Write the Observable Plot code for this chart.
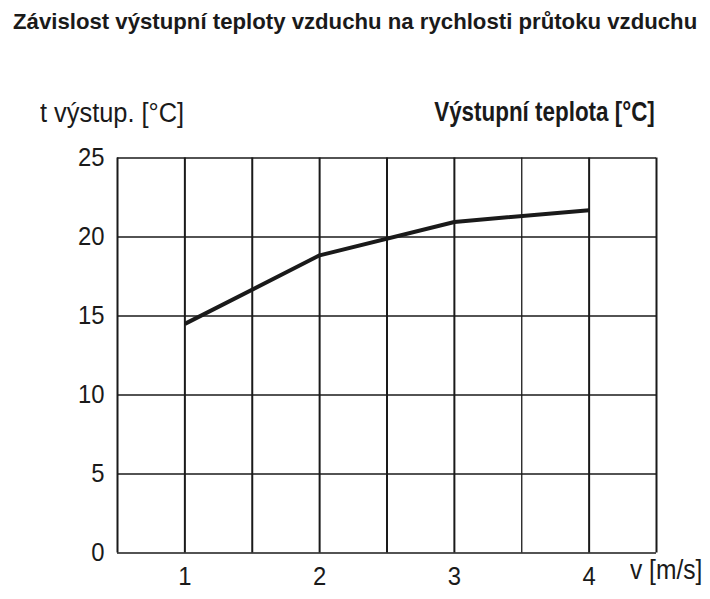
<!DOCTYPE html>
<html>
<head>
<meta charset="utf-8">
<script src="https://cdn.jsdelivr.net/npm/d3@7"></script>
<script src="https://cdn.jsdelivr.net/npm/@observablehq/plot@0.6"></script>
<style>
  html, body { margin: 0; padding: 0; background: #fff; }
  #wrap { position: relative; width: 710px; height: 599px; font-family: "Liberation Sans", Arial, sans-serif; color: #1a1a1a; }
  .t { position: absolute; white-space: nowrap; line-height: 1; }
  #title { left: 13px; top: 10.5px; font-size: 22.2px; font-weight: bold; }
  #ylab { left: 40px; top: 99.5px; font-size: 27px; transform: scaleX(0.94); transform-origin: left center; }
  #rlab { right: 55px; top: 99px; font-size: 27px; font-weight: bold; transform: scaleX(0.83); transform-origin: right center; }
  #xlab { left: 630px; top: 557px; font-size: 27px; transform: scaleX(0.91); transform-origin: left center; }
  svg { position: absolute; left: 0; top: 0; }
</style>
</head>
<body>
<div id="wrap">
  <div class="t" id="title">Závislost výstupní teploty vzduchu na rychlosti průtoku vzduchu</div>
  <div class="t" id="ylab">t výstup. [°C]</div>
  <div class="t" id="rlab">Výstupní teplota [°C]</div>
  <div class="t" id="xlab">v [m/s]</div>
</div>
<script>
const speed = [1, 2, 3, 4];
const temperature = [14.5, 18.84, 20.95, 21.7];
const xTicks = [1, 2, 3, 4];
const xGrid = [0.5, 1, 1.5, 2, 2.5, 3, 3.5, 4, 4.5];
const yTicks = [0, 5, 10, 15, 20, 25];

const data = speed.map((v, i) => ({v, t: temperature[i]}));

const chart = Plot.plot({
  width: 710,
  height: 599,
  marginTop: 157.5,
  marginBottom: 46.5,
  marginLeft: 117,
  marginRight: 54,
  style: {fontFamily: "'Liberation Sans', Arial, sans-serif", fontSize: "26.5px", color: "#1a1a1a", background: "transparent"},
  x: {domain: [0.5, 4.5], ticks: xTicks, tickSize: 0, tickPadding: 13, label: null, tickFormat: d => String(d)},
  y: {domain: [0, 25], ticks: yTicks, tickSize: 0, tickPadding: 13, label: null},
  marks: [
    Plot.ruleY(yTicks, {stroke: "#1a1a1a", strokeWidth: 1.3}),
    Plot.ruleX(xGrid, {stroke: "#1a1a1a", strokeWidth: d => d === 3.5 ? 1.3 : 2}),
    Plot.line(data, {x: "v", y: "t", stroke: "#1a1a1a", strokeWidth: 4, strokeLinecap: "butt", strokeLinejoin: "round"})
  ]
});
document.getElementById("wrap").appendChild(chart);

// condense the tick labels horizontally around their own anchor point
for (const t of chart.querySelectorAll('g[aria-label$="tick label"] text')) {
  const bb = t.getBBox();
  const anchor = getComputedStyle(t).textAnchor || t.getAttribute("text-anchor") || "middle";
  const ax = anchor === "end" ? bb.x + bb.width : anchor === "start" ? bb.x : bb.x + bb.width / 2;
  const tr = t.getAttribute("transform") || "";
  t.setAttribute("transform", `${tr} translate(${ax},0) scale(0.9,1) translate(${-ax},0)`);
}
</script>
</body>
</html>
